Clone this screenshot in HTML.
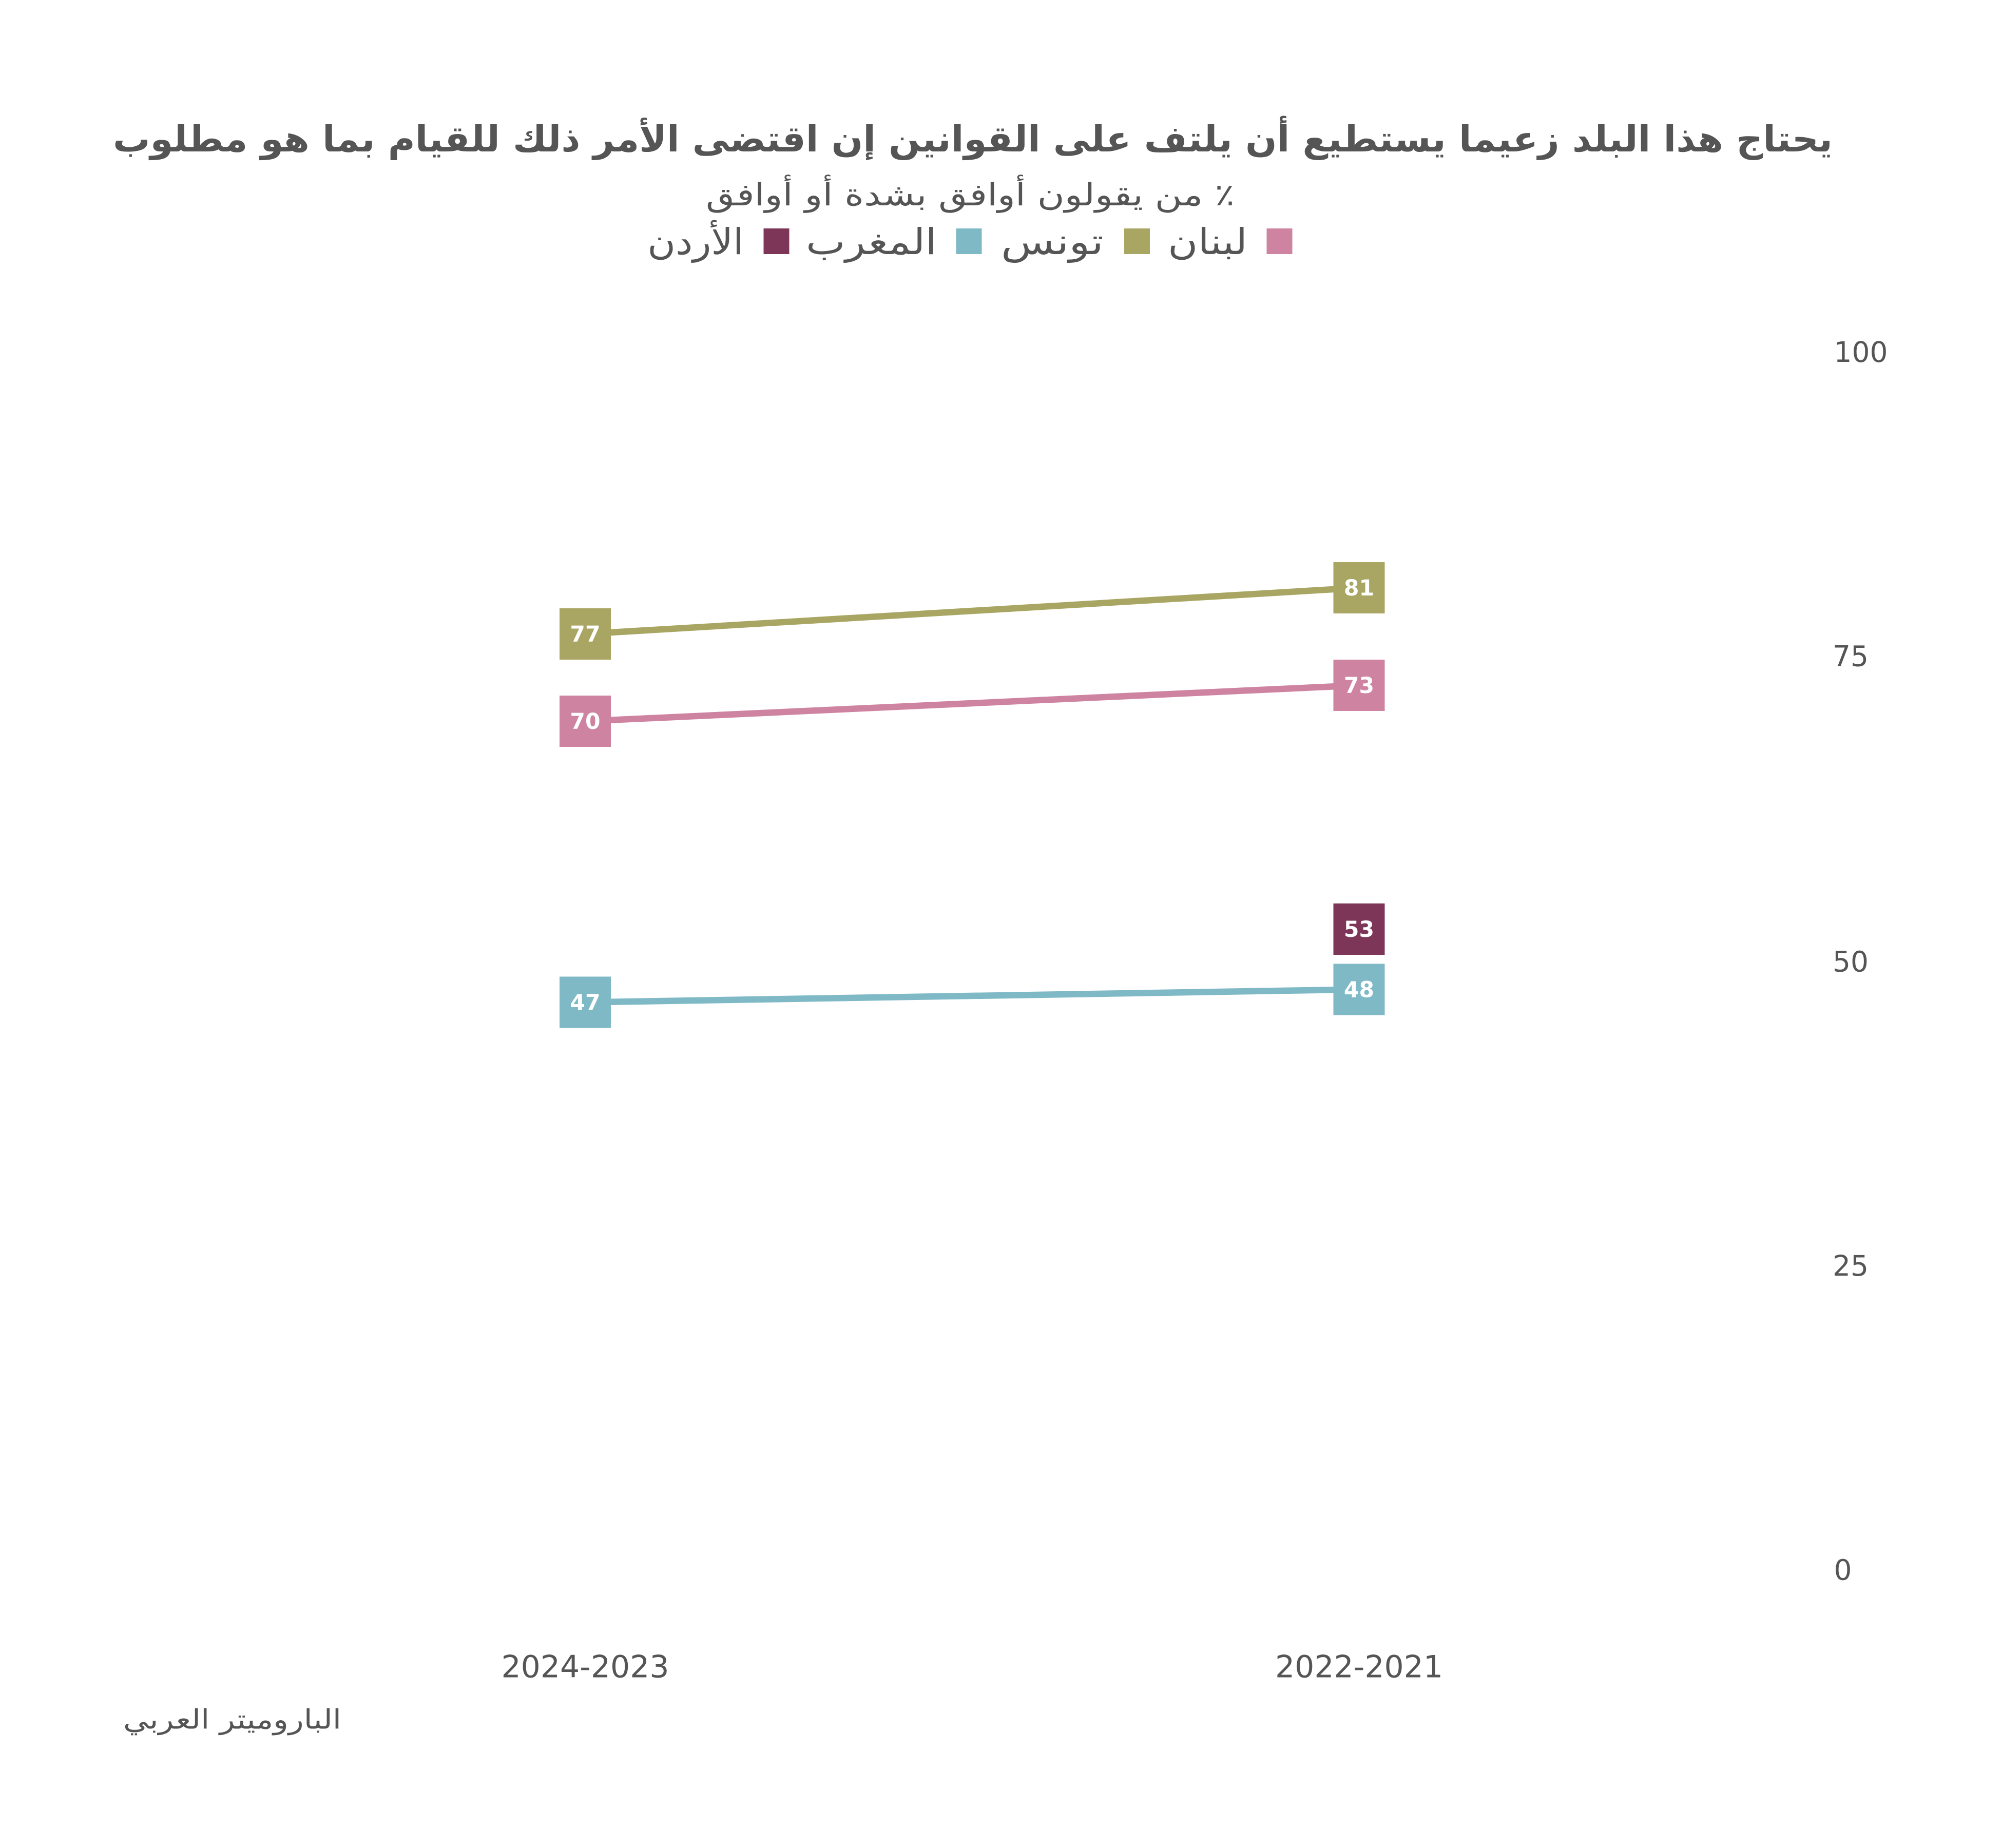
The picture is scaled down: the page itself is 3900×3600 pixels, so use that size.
<!DOCTYPE html>
<html><head><meta charset="utf-8"><style>
html,body{margin:0;padding:0;background:#fff;}
svg{display:block;}
text{font-family:"DejaVu Sans","Liberation Sans",sans-serif;fill:#555;}
.v{fill:#fff;font-weight:bold;font-size:17px;text-anchor:middle;}
</style></head><body>
<svg width="3900" height="3600" viewBox="0 0 1560 1440" xmlns="http://www.w3.org/2000/svg">
<rect width="1560" height="1440" fill="#fff"/>
<text x="758" y="118" font-size="28" font-weight="bold" text-anchor="middle" direction="rtl" textLength="1340" lengthAdjust="spacingAndGlyphs">يحتاج هذا البلد زعيما يستطيع أن يلتف على القوانين إن اقتضى الأمر ذلك للقيام بما هو مطلوب</text>
<text x="756" y="160" font-size="24" text-anchor="middle" direction="rtl" textLength="412" lengthAdjust="spacingAndGlyphs">٪ من يقولون أوافق بشدة أو أوافق</text>
<rect x="987" y="178" width="20" height="20" fill="#CE83A1"/>
<text x="941" y="198" font-size="28" text-anchor="middle" textLength="62" lengthAdjust="spacingAndGlyphs">لبنان</text>
<rect x="876" y="178" width="20" height="20" fill="#A9A663"/>
<text x="820" y="198" font-size="28" text-anchor="middle" textLength="80" lengthAdjust="spacingAndGlyphs">تونس</text>
<rect x="745" y="178" width="20" height="20" fill="#7FB9C6"/>
<text x="679" y="198" font-size="28" text-anchor="middle" textLength="102" lengthAdjust="spacingAndGlyphs">المغرب</text>
<rect x="595" y="178" width="20" height="20" fill="#7E3658"/>
<text x="542" y="198" font-size="28" text-anchor="middle" textLength="75" lengthAdjust="spacingAndGlyphs">الأردن</text>
<g font-size="22" text-anchor="middle">
<text x="1450" y="282">100</text>
<text x="1442" y="519">75</text>
<text x="1442" y="757">50</text>
<text x="1442" y="994">25</text>
<text x="1436" y="1231">0</text>
</g>
<g font-size="24" text-anchor="middle">
<text x="456" y="1307">2024-2023</text>
<text x="1059" y="1307">2022-2021</text>
</g>
<text x="181" y="1347" font-size="21" text-anchor="middle" textLength="170" lengthAdjust="spacingAndGlyphs">الباروميتر العربي</text>
<g stroke-width="5" fill="none">
<line x1="456" y1="494" x2="1059" y2="458" stroke="#A9A663"/>
<line x1="456" y1="562" x2="1059" y2="534" stroke="#CE83A1"/>
<line x1="456" y1="781" x2="1059" y2="771" stroke="#7FB9C6"/>
</g>
<rect x="436" y="474" width="40" height="40" fill="#A9A663"/><text class="v" x="456" y="500">77</text>
<rect x="1039" y="438" width="40" height="40" fill="#A9A663"/><text class="v" x="1059" y="464">81</text>
<rect x="436" y="542" width="40" height="40" fill="#CE83A1"/><text class="v" x="456" y="568">70</text>
<rect x="1039" y="514" width="40" height="40" fill="#CE83A1"/><text class="v" x="1059" y="540">73</text>
<rect x="436" y="761" width="40" height="40" fill="#7FB9C6"/><text class="v" x="456" y="787">47</text>
<rect x="1039" y="751" width="40" height="40" fill="#7FB9C6"/><text class="v" x="1059" y="777">48</text>
<rect x="1039" y="704" width="40" height="40" fill="#7E3658"/><text class="v" x="1059" y="730">53</text>
</svg>
</body></html>
